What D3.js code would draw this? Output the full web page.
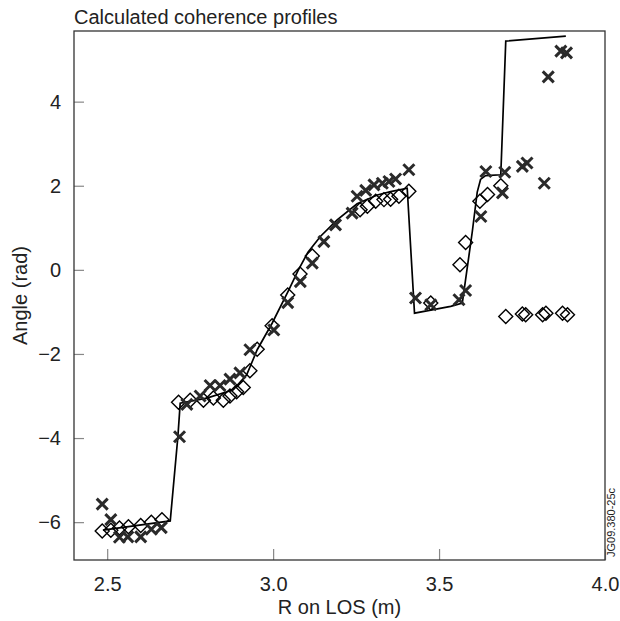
<!DOCTYPE html>
<html>
<head>
<meta charset="utf-8">
<script src="https://cdn.jsdelivr.net/npm/d3@7"></script>
<style>
  body { margin: 0; background: #fff; }
  svg { display: block; font-family: "Liberation Sans", Arial, sans-serif; }
</style>
</head>
<body>
<svg id="chart" width="620" height="621"></svg>
<script>
// model curve
const modelR = [ 2.487, 2.69, 2.713, 2.72, 2.80, 2.88, 2.92, 2.952, 2.997, 3.047, 3.075, 3.105, 3.143, 3.193, 3.253, 3.314, 3.354, 3.404, 3.426, 3.535, 3.570, 3.60, 3.615, 3.625, 3.64, 3.686, 3.701, 3.882 ];
const modelAngle = [ -6.19, -5.97, -3.97, -3.17, -3.05, -2.85, -2.5, -1.9, -1.27, -0.48, -0.02, 0.42, 0.80, 1.19, 1.57, 1.78, 1.86, 1.94, -1.03, -0.87, -0.79, 0.9, 1.85, 2.15, 2.24, 2.26, 5.44, 5.56 ];

// measured (crosses)
const crossR = [ 2.485, 2.511, 2.537, 2.562, 2.601, 2.633, 2.663, 2.718, 2.74, 2.78, 2.81, 2.84, 2.87, 2.90, 2.93, 3.002, 3.044, 3.082, 3.118, 3.153, 3.188, 3.238, 3.253, 3.279, 3.304, 3.329, 3.349, 3.369, 3.409, 3.429, 3.475, 3.560, 3.580, 3.626, 3.641, 3.691, 3.698, 3.751, 3.765, 3.817, 3.829, 3.867, 3.884 ];
const crossAngle = [ -5.57, -5.94, -6.36, -6.35, -6.35, -6.17, -6.13, -3.97, -3.2, -3.0, -2.75, -2.75, -2.6, -2.45, -1.9, -1.43, -0.78, -0.28, 0.16, 0.67, 1.07, 1.35, 1.75, 1.89, 2.02, 2.06, 2.10, 2.16, 2.38, -0.67, -0.83, -0.71, -0.49, 1.27, 2.34, 1.83, 2.32, 2.46, 2.54, 2.06, 4.59, 5.20, 5.16 ];

// calculated (diamonds)
const diamondR = [ 2.485, 2.511, 2.537, 2.564, 2.601, 2.633, 2.665, 2.715, 2.75, 2.79, 2.82, 2.85, 2.87, 2.89, 2.91, 2.93, 2.952, 2.997, 3.044, 3.081, 3.118, 3.262, 3.284, 3.309, 3.334, 3.354, 3.379, 3.409, 3.475, 3.563, 3.580, 3.623, 3.646, 3.686, 3.701, 3.751, 3.761, 3.812, 3.822, 3.872, 3.887 ];
const diamondAngle = [ -6.21, -6.19, -6.14, -6.11, -6.08, -6.0, -5.94, -3.15, -3.1, -3.1, -3.05, -3.1, -3.0, -2.9, -2.8, -2.4, -1.89, -1.33, -0.60, -0.10, 0.33, 1.43, 1.51, 1.63, 1.67, 1.68, 1.75, 1.87, -0.79, 0.12, 0.65, 1.63, 1.79, 2.0, -1.11, -1.05, -1.07, -1.07, -1.03, -1.03, -1.07 ];

const xTicks = [ 2.5, 3.0, 3.5, 4.0 ];
const yTicks = [ -6, -4, -2, 0, 2, 4 ];

const svg = d3.select( "#chart" );
const MARGINS = { top: 31, right: 15, bottom: 61, left: 74 };
const WIDTH = 620;
const HEIGHT = 621;

const x = d3.scaleLinear()
  .domain( [ 2.4, 4.0 ] )
  .range( [ MARGINS.left, WIDTH - MARGINS.right ] );
const y = d3.scaleLinear()
  .domain( [ -6.9, 5.68 ] )
  .range( [ HEIGHT - MARGINS.bottom, MARGINS.top ] );

const xAxis = d3.axisBottom( x ).tickValues( xTicks ).tickFormat( d3.format( ".1f" ) ).tickSizeInner( -11 ).tickSizeOuter( 0 ).tickPadding( 17 );
const yAxis = d3.axisLeft( y ).tickValues( yTicks ).tickFormat( d => d < 0 ? `\u2212${-d}` : d ).tickSizeInner( -10 ).tickSizeOuter( 0 ).tickPadding( 13 );

const gx = svg.append( "g" )
  .attr( "transform", `translate(0,${HEIGHT - MARGINS.bottom})` )
  .call( xAxis );
const gy = svg.append( "g" )
  .attr( "transform", `translate(${MARGINS.left},0)` )
  .call( yAxis );

[ gx, gy ].forEach( g => {
  g.select( ".domain" ).remove();
  g.selectAll( ".tick line" ).attr( "stroke", "#888" ).attr( "stroke-width", 1.2 );
  g.selectAll( ".tick text" ).attr( "fill", "#222" ).style( "font-size", "20px" ).style( "font-family", "Liberation Sans, Arial, sans-serif" );
} );
gx.selectAll( ".tick text" ).attr( "dy", "0.71em" );

// frame
svg.append( "rect" )
  .attr( "x", MARGINS.left )
  .attr( "y", MARGINS.top )
  .attr( "width", WIDTH - MARGINS.right - MARGINS.left )
  .attr( "height", HEIGHT - MARGINS.bottom - MARGINS.top )
  .attr( "fill", "none" )
  .attr( "stroke", "#333" )
  .attr( "stroke-width", 1.3 );

// model line
const lineData = modelR.map( ( r, i ) => ( { x: r, y: modelAngle[i] } ) );
const lineFunc = d3.line()
  .x( d => x( d.x ) )
  .y( d => y( d.y ) );
svg.append( "path" )
  .attr( "d", lineFunc( lineData ) )
  .attr( "fill", "none" )
  .attr( "stroke", "#000" )
  .attr( "stroke-width", 1.7 );

// diamonds
const diamonds = diamondR.map( ( r, i ) => [ r, diamondAngle[i] ] );
const dSize = 7;
svg.append( "g" ).selectAll( "path" )
  .data( diamonds )
  .enter()
  .append( "path" )
  .attr( "d", d => {
    const cx = x( d[0] ), cy = y( d[1] );
    return `M${cx},${cy - dSize}L${cx + dSize},${cy}L${cx},${cy + dSize}L${cx - dSize},${cy}Z`;
  } )
  .attr( "fill", "none" )
  .attr( "stroke", "#000" )
  .attr( "stroke-width", 1.4 );

// crosses
const crosses = crossR.map( ( r, i ) => [ r, crossAngle[i] ] );
const cSize = 5.5;
svg.append( "g" ).selectAll( "path" )
  .data( crosses )
  .enter()
  .append( "path" )
  .attr( "d", d => {
    const cx = x( d[0] ), cy = y( d[1] );
    return `M${cx - cSize},${cy - cSize}L${cx + cSize},${cy + cSize}M${cx - cSize},${cy + cSize}L${cx + cSize},${cy - cSize}`;
  } )
  .attr( "stroke", "#2a2a2a" )
  .attr( "stroke-width", 3 );

// labels
svg.append( "text" )
  .attr( "x", MARGINS.left )
  .attr( "y", 24 )
  .attr( "fill", "#222" )
  .style( "font-size", "20px" )
  .text( "Calculated coherence profiles" );

svg.append( "text" )
  .attr( "x", ( MARGINS.left + WIDTH - MARGINS.right ) / 2 )
  .attr( "y", 614 )
  .attr( "text-anchor", "middle" )
  .attr( "fill", "#222" )
  .style( "font-size", "20px" )
  .text( "R on LOS (m)" );

svg.append( "text" )
  .attr( "transform", `translate(27,${( MARGINS.top + HEIGHT - MARGINS.bottom ) / 2}) rotate(-90)` )
  .attr( "text-anchor", "middle" )
  .attr( "fill", "#222" )
  .style( "font-size", "20px" )
  .text( "Angle (rad)" );

svg.append( "text" )
  .attr( "transform", `translate(615,557) rotate(-90)` )
  .attr( "fill", "#222" )
  .style( "font-size", "11px" )
  .text( "JG09.380-25c" );
</script>
</body>
</html>
